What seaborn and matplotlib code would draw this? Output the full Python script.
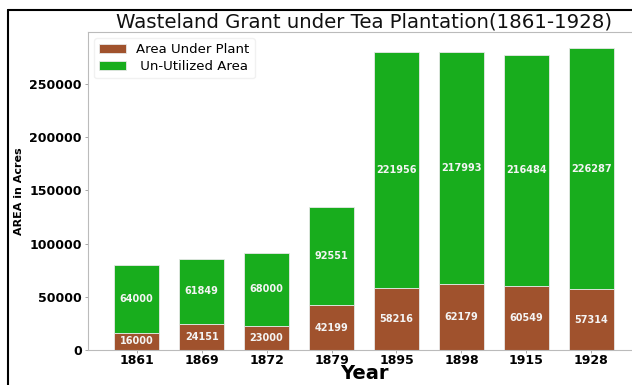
import matplotlib
matplotlib.use("Agg")
import matplotlib.pyplot as plt
import seaborn as sns
import pandas as pd
from matplotlib.lines import Line2D

years = ["1861", "1869", "1872", "1879", "1895", "1898", "1915", "1928"]
area_under_plant = [16000, 24151, 23000, 42199, 58216, 62179, 60549, 57314]
unutilized_area = [64000, 61849, 68000, 92551, 221956, 217993, 216484, 226287]

sns.set_style("ticks")
plt.rcParams['font.family'] = ['DejaVu Sans']
plt.rcParams['text.color'] = 'black'
plt.rcParams['axes.labelcolor'] = 'black'
plt.rcParams['xtick.color'] = 'black'
plt.rcParams['ytick.color'] = 'black'

df = pd.DataFrame({"Year": years, "Plant": area_under_plant, "Unused": unutilized_area})

fig = plt.figure(figsize=(6.32, 3.85), dpi=100)
ax = fig.add_axes([88/632, 1-350/385, 552/632, 318/385])

brown = "#A0522D"
green = "#18AD1D"
b1 = ax.bar(df["Year"], df["Plant"], width=0.7, color=brown, edgecolor="#e8e8e8", linewidth=0.6,
            label="Area Under Plant")
b2 = ax.bar(df["Year"], df["Unused"], width=0.7, bottom=df["Plant"], color=green,
            edgecolor="#e8e8e8", linewidth=0.6, label=" Un-Utilized Area")
ax.bar_label(b1, labels=[str(v) for v in area_under_plant], label_type="center",
             color="#f4f4f4", fontsize=7, fontweight="bold")
ax.bar_label(b2, labels=[str(v) for v in unutilized_area], label_type="center",
             color="#f4f4f4", fontsize=7, fontweight="bold")

ax.set_xlim(-0.75, 7.75)
ax.set_ylim(0, 299000)
ax.set_title("Wasteland Grant under Tea Plantation(1861-1928)", fontsize=14.2, pad=3,
             color="#111111")
ax.set_xlabel("Year", fontsize=14, fontweight="bold", labelpad=-2.5)
ax.set_ylabel("AREA in Acres", fontsize=8, fontweight="bold", labelpad=4)
ax.set_yticks([0, 50000, 100000, 150000, 200000, 250000])
ax.set_yticklabels(["0", "50000", "100000", "150000", "200000", "250000"])
for lab in ax.get_xticklabels() + ax.get_yticklabels():
    lab.set_fontweight("bold")
    lab.set_fontsize(9)
ax.tick_params(axis="both", length=2.5, width=0.6, color="#999999", labelcolor="black")
ax.tick_params(axis="x", pad=0.5)
ax.tick_params(axis="y", pad=2)
for s in ax.spines.values():
    s.set_color("#bbbbbb")
    s.set_linewidth(0.8)

leg = ax.legend(loc="upper left", fontsize=9.5, frameon=True, borderaxespad=0.45,
                handlelength=2.0, labelspacing=0.3, handleheight=0.6)
leg.get_frame().set_edgecolor("#eeeeee")

fig.add_artist(Line2D([8/632, 8/632], [0, 1-10/385], color="black", linewidth=1.5))
fig.add_artist(Line2D([8/632, 1], [1-10/385, 1-10/385], color="black", linewidth=1.5))

fig.savefig("out.png", dpi=100)
